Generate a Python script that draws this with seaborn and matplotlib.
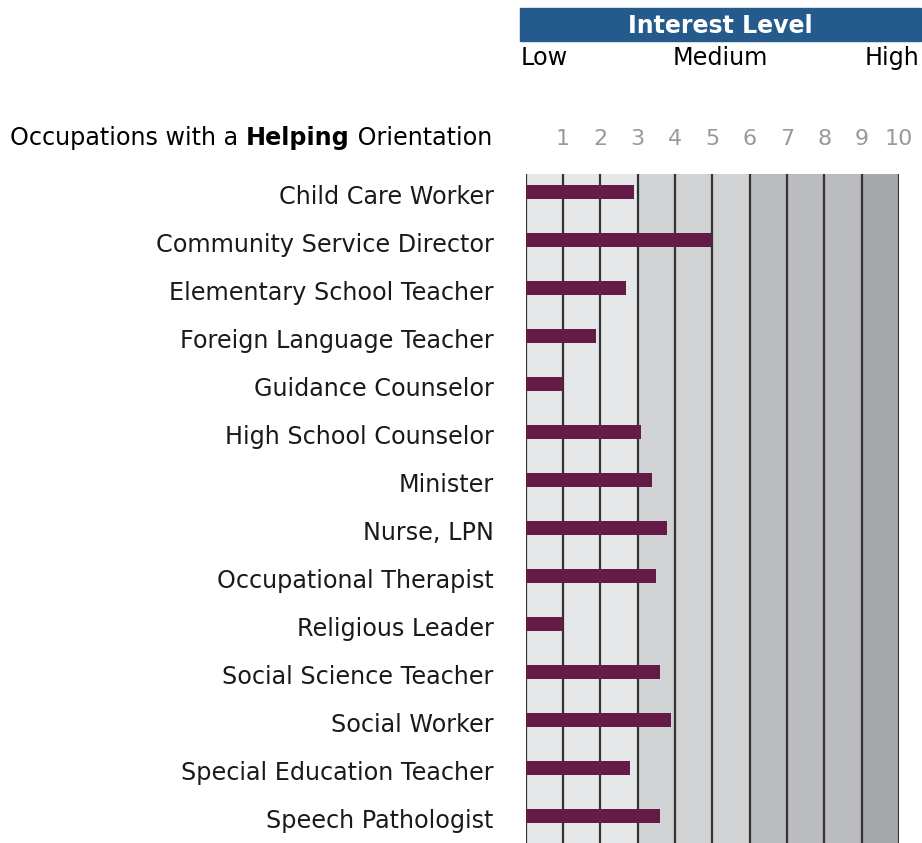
import matplotlib
matplotlib.use("Agg")
import matplotlib.pyplot as plt
import matplotlib.transforms as mtransforms
from matplotlib.patches import Rectangle
import seaborn as sns
import pandas as pd

occupations = ["Child Care Worker", "Community Service Director", "Elementary School Teacher",
               "Foreign Language Teacher", "Guidance Counselor", "High School Counselor",
               "Minister", "Nurse, LPN", "Occupational Therapist", "Religious Leader",
               "Social Science Teacher", "Social Worker", "Special Education Teacher",
               "Speech Pathologist"]
scores = [2.9, 5.0, 2.7, 1.9, 1.0, 3.1, 3.4, 3.8, 3.5, 1.0, 3.6, 3.9, 2.8, 3.6]
levels = list(range(1, 11))
band_edges = [0, 3, 6, 9, 10]
band_colors = ["#e6e7e9", "#d1d2d4", "#bbbcc0", "#a7a8ac"]

df = pd.DataFrame({"occupation": occupations, "score": scores})

W, H = 922, 843
fs = 17.2
fig = plt.figure(figsize=(W / 100, H / 100), dpi=100)
ax = fig.add_axes([525.5 / W, 0, (899 - 525.5) / W, 1 - 174 / H])

for i in range(len(band_colors)):
    ax.axvspan(band_edges[i], band_edges[i + 1], color=band_colors[i], zorder=0, lw=0)
for v in range(0, 11):
    ax.axvline(v, color="#333333", lw=1.6, zorder=1)

sns.barplot(data=df, x="score", y="occupation", orient="h", color="#641b45",
            width=0.29, saturation=1, ax=ax, zorder=3)

ax.set_xlim(0, 10)
ax.set_ylim(13.56, -0.375)
ax.set_xlabel("")
ax.set_ylabel("")
for s in ax.spines.values():
    s.set_visible(False)
ax.xaxis.tick_top()
ax.set_xticks(levels)
ax.set_xticklabels([str(v) for v in levels])
ax.tick_params(axis="x", length=0, pad=18, labelsize=16, labelcolor="#999999")
ax.tick_params(axis="y", length=0, pad=23, labelsize=fs, labelcolor="#1a1a1a")
shift = mtransforms.ScaledTranslation(0, -2 / 100, fig.dpi_scale_trans)
for lab in ax.get_yticklabels():
    lab.set_transform(lab.get_transform() + shift)

# header
fig.patches.append(Rectangle((520 / W, 1 - 41 / H), 401 / W, 33 / H,
                             transform=fig.transFigure, color="#245a8c", zorder=0))
fig.text(720 / W, 1 - 33 / H, "Interest Level", color="white", fontsize=17,
         fontweight="bold", ha="center", va="baseline")
fig.text(521 / W, 1 - 65 / H, "Low", fontsize=fs, ha="left", va="baseline")
fig.text(720 / W, 1 - 65 / H, "Medium", fontsize=fs, ha="center", va="baseline")
fig.text(919 / W, 1 - 65 / H, "High", fontsize=fs, ha="right", va="baseline")

# title with bold word
t1 = fig.text(10 / W, 1 - 145 / H, "Occupations with a ", fontsize=fs, va="baseline")
t2 = ax.annotate("Helping", xy=(1, 0), xycoords=t1, va="bottom", fontsize=fs,
                 fontweight="bold", annotation_clip=False)
ax.annotate(" Orientation", xy=(1, 0), xycoords=t2, va="bottom", fontsize=fs,
            annotation_clip=False)

fig.savefig("out.png", dpi=100, facecolor="white")
